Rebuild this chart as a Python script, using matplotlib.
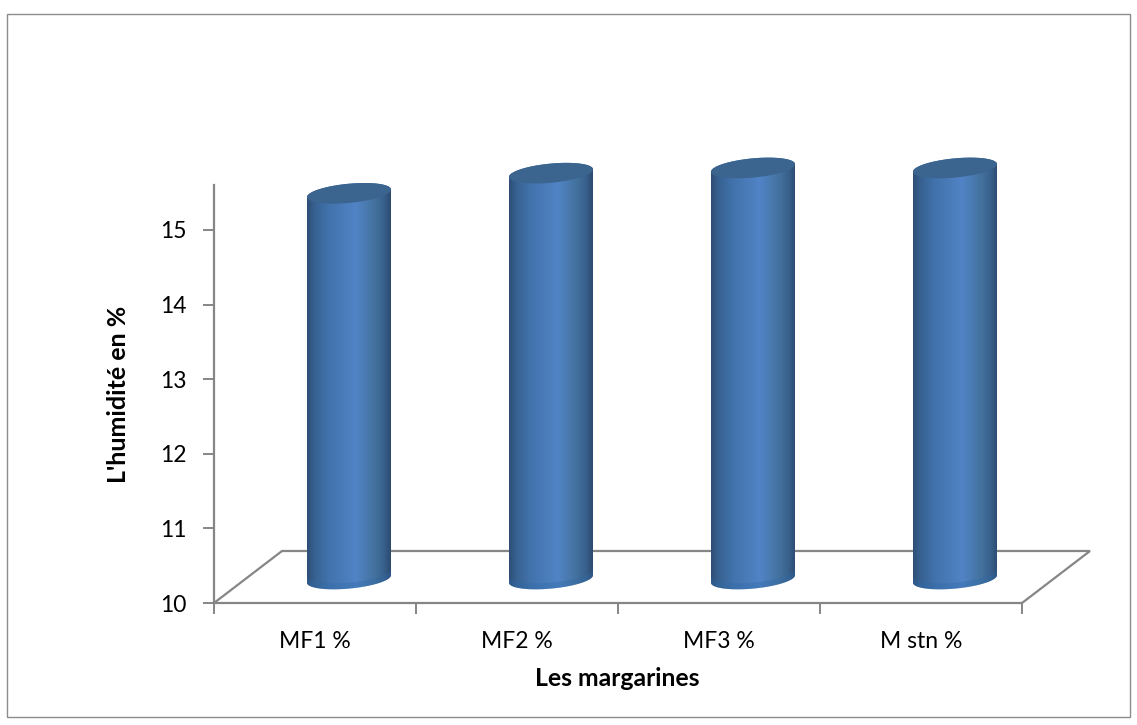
#! /usr/bin/env python3
"""Moisture of the margarines, drawn as 3D-style cylinders."""
import matplotlib.pyplot as plt
import numpy as np
from matplotlib.colors import LinearSegmentedColormap
from matplotlib.patches import PathPatch, Polygon, Rectangle
from matplotlib.path import Path

categories = ["MF1 %", "MF2 %", "MF3 %", "M stn %"]
humidity = [15.17, 15.44, 15.51, 15.51]
y_ticks = [10, 11, 12, 13, 14, 15]

W, H = 1137, 725
LEFT, RIGHT, BASE, TOP = 214, 1022, 603, 185
PX_PER_UNIT = 74.6
PX_PER_CAT = (RIGHT - LEFT) / len(categories)
GREY = "#868686"

plt.rcParams["font.family"] = ["Lato", "DejaVu Sans"]

fig = plt.figure(figsize=(W / 100, H / 100), dpi=100)
fig.add_artist(
    Rectangle((7 / W, 1 - 717 / H), 1123 / W, 703 / H, transform=fig.transFigure,
              fill=False, edgecolor="#8c8c8c", linewidth=1.0)
)
ax = fig.add_axes([LEFT / W, 1 - BASE / H, (RIGHT - LEFT) / W, (BASE - TOP) / H])
ax.set_xlim(0, len(categories))
ax.set_ylim(10, 10 + (BASE - TOP) / PX_PER_UNIT)
ax.patch.set_alpha(0)


def to_data(dx_px, dy_px):
    """Pixel offsets to data units on this axes."""
    return np.asarray(dx_px) / PX_PER_CAT, np.asarray(dy_px) / PX_PER_UNIT


# floor of the 3D box
depth_x, depth_y = to_data(68, 52)
n = len(categories)
floor = Polygon(
    [(0, 10), (depth_x, 10 + depth_y), (n + depth_x, 10 + depth_y), (n, 10)],
    closed=False, fill=False, edgecolor=GREY, linewidth=1.6, clip_on=False, zorder=1,
)
ax.add_patch(floor)

body_cmap = LinearSegmentedColormap.from_list(
    "body",
    [(0.0, "#2e4e76"), (0.08, "#36608f"), (0.25, "#4272ab"), (0.58, "#5184c6"),
     (0.8, "#44729f"), (0.92, "#38608c"), (1.0, "#2c4a6e")],
)

# cylinder geometry, in pixels
HALF_W = 42
SHEAR = 0.09
SEMI = 9.6
OFF_X, OFF_Y = to_data(34, 24)
t = np.linspace(0, 2 * np.pi, 121)


def rim(cx, cy, angles):
    dx, dy = to_data(HALF_W * np.cos(angles), SHEAR * HALF_W * np.cos(angles) + SEMI * np.sin(angles))
    return cx + dx, cy + dy


for i, value in enumerate(humidity):
    cx = i + 0.5 + OFF_X
    y0 = 10 + OFF_Y
    y1 = value + OFF_Y
    # outline: lower half of the base, then upper half of the top rim
    bx, by = rim(cx, y0, np.linspace(np.pi, 2 * np.pi, 60))
    tx, ty = rim(cx, y1, np.linspace(0, np.pi, 60))
    outline = np.column_stack([np.r_[bx, tx], np.r_[by, ty]])
    hw = HALF_W / PX_PER_CAT
    im = ax.imshow(
        np.linspace(0, 1, 256).reshape(1, -1), cmap=body_cmap, aspect="auto",
        extent=(cx - hw, cx + hw, 10, 16.2), zorder=2,
    )
    # the cylinders rise above the axes box, so only the outline may clip them
    im.set_clip_box(fig.bbox)
    im.set_clip_path(Polygon(outline, closed=True, transform=ax.transData))
    # rounded base has a slightly deeper rim
    ux, uy = rim(cx, y0 + to_data(0, 6)[1], np.linspace(2 * np.pi, np.pi, 60))
    ax.fill(np.r_[bx, ux], np.r_[by, uy], color="#2f6aa8", alpha=0.35, lw=0, zorder=3, clip_on=False)
    # top face
    ex, ey = rim(cx, y1, t)
    ax.add_patch(PathPatch(Path(np.column_stack([ex, ey])), facecolor="#3b648f",
                           edgecolor="none", zorder=4, clip_on=False))

ax.set_ylim(10, 10 + (BASE - TOP) / PX_PER_UNIT)
ax.set_xlim(0, n)

for side in ("top", "right"):
    ax.spines[side].set_visible(False)
for side in ("left", "bottom"):
    ax.spines[side].set_color(GREY)
    ax.spines[side].set_linewidth(1.6)

ax.set_xticks(np.arange(n + 1))
ax.set_xticklabels([])
ax.set_xticks(np.arange(n) + 0.5, categories, minor=True)
ax.tick_params(axis="x", which="major", length=8, width=1.4, color=GREY, direction="out")
ax.tick_params(axis="x", which="minor", length=0, pad=20, labelsize=16.5, labelcolor="black")
ax.set_yticks(y_ticks)
ax.tick_params(axis="y", length=8, width=1.4, color=GREY, pad=12, labelsize=16.5, labelcolor="black")

fig.text(617 / W, 1 - 679 / H, "Les margarines", ha="center", va="center", fontsize=17.8, fontweight="bold")
fig.text(118 / W, 1 - 394 / H, "L'humidité en %", ha="center", va="center", rotation=90,
         fontsize=18, fontweight="bold")

fig.savefig("out.png", dpi=100)
